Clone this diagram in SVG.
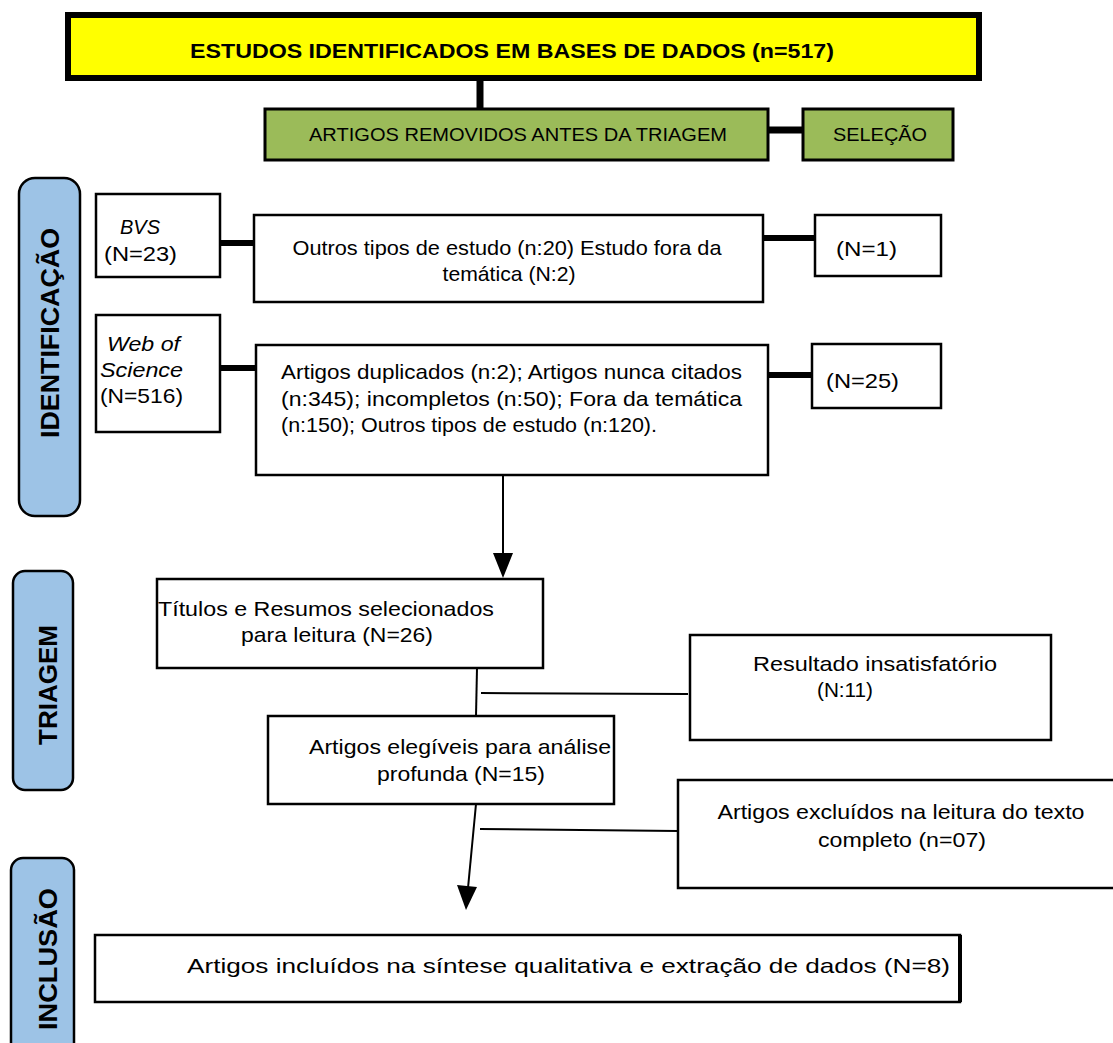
<svg xmlns="http://www.w3.org/2000/svg" width="1113" height="1043" viewBox="0 0 1113 1043">
<defs>
<style>
text{font-family:"Liberation Sans",Arial,sans-serif;fill:#000}
.box{fill:#fff;stroke:#000;stroke-width:2.5}
.green{fill:#9BBB59;stroke:#000;stroke-width:3}
.side{fill:#9DC3E6;stroke:#000;stroke-width:2.5}
.t{font-size:21px}
.lbl{font-size:26px;font-weight:bold}
.thick{stroke:#000;stroke-width:6;fill:none}
.thin{stroke:#000;stroke-width:2;fill:none}
</style>
</defs>
<rect width="1113" height="1043" fill="#fff"/>

<g id="connectors">
<line class="thick" x1="480" y1="80" x2="480" y2="108" style="stroke-width:7"/>
<line class="thick" x1="768" y1="130" x2="803" y2="130" style="stroke-width:7"/>
<line class="thick" x1="220" y1="243" x2="255" y2="243"/>
<line class="thick" x1="763" y1="238" x2="815" y2="238"/>
<line class="thick" x1="220" y1="368" x2="255" y2="368"/>
<line class="thick" x1="763" y1="375" x2="812" y2="375"/>
<line class="thin" x1="503" y1="465" x2="503" y2="555"/>
<polygon points="493,553 513,553 503,578" fill="#000"/>
<line class="thin" x1="477" y1="668" x2="476" y2="716"/>
<line class="thin" x1="481" y1="693" x2="688" y2="694"/>
<line class="thin" x1="476" y1="804" x2="468" y2="888"/>
<polygon points="457,885 477,887 466,910" fill="#000"/>
<line class="thin" x1="480" y1="829" x2="678" y2="831"/>
<path d="M66,912 H72 V948 H66" class="thin" style="stroke-width:1.5"/>
</g>

<g id="title">
<rect x="68" y="15" width="911" height="63" fill="#FFFF00" stroke="#000" stroke-width="6"/>
<text x="512" y="58" text-anchor="middle" font-size="20" font-weight="bold" textLength="644" lengthAdjust="spacingAndGlyphs">ESTUDOS IDENTIFICADOS EM BASES DE DADOS (n=517)</text>
</g>

<g id="removidos">
<rect class="green" x="265" y="109" width="503" height="51"/>
<text x="518" y="141" text-anchor="middle" font-size="19" textLength="418" lengthAdjust="spacingAndGlyphs">ARTIGOS REMOVIDOS ANTES DA TRIAGEM</text>
</g>

<g id="selecao">
<rect class="green" x="803" y="109" width="150" height="51"/>
<text x="880" y="141" text-anchor="middle" font-size="19" textLength="94" lengthAdjust="spacingAndGlyphs">SELEÇÃO</text>
</g>

<g id="label-identificacao">
<rect class="side" x="19" y="178" width="61" height="338" rx="16"/>
<text class="lbl" transform="translate(59,333) rotate(-90)" text-anchor="middle" textLength="210" lengthAdjust="spacingAndGlyphs">IDENTIFICAÇÃO</text>
</g>

<g id="bvs">
<rect class="box" x="96" y="194" width="124" height="83"/>
<text class="t" x="120" y="234" font-style="italic" textLength="40" lengthAdjust="spacingAndGlyphs">BVS</text>
<text class="t" x="104" y="261" textLength="73" lengthAdjust="spacingAndGlyphs">(N=23)</text>
</g>

<g id="bvs-excl">
<rect class="box" x="254" y="215" width="509" height="87"/>
<text class="t" x="507" y="255" text-anchor="middle" textLength="429" lengthAdjust="spacingAndGlyphs">Outros tipos de estudo (n:20) Estudo fora da</text>
<text class="t" x="509" y="281" text-anchor="middle" textLength="133" lengthAdjust="spacingAndGlyphs">temática (N:2)</text>
</g>

<g id="bvs-n">
<rect class="box" x="815" y="215" width="126" height="61"/>
<text class="t" x="836" y="256" textLength="61" lengthAdjust="spacingAndGlyphs">(N=1)</text>
</g>

<g id="wos">
<rect class="box" x="96" y="315" width="124" height="117"/>
<text class="t" x="107" y="351" font-style="italic" textLength="73" lengthAdjust="spacingAndGlyphs">Web of</text>
<text class="t" x="100" y="377" font-style="italic" textLength="83" lengthAdjust="spacingAndGlyphs">Science</text>
<text class="t" x="100" y="403" textLength="83" lengthAdjust="spacingAndGlyphs">(N=516)</text>
</g>

<g id="wos-excl">
<rect class="box" x="256" y="345" width="512" height="130"/>
<text class="t" x="281" y="379" textLength="461" lengthAdjust="spacingAndGlyphs">Artigos duplicados (n:2); Artigos nunca citados</text>
<text class="t" x="281" y="406" textLength="461" lengthAdjust="spacingAndGlyphs">(n:345); incompletos (n:50); Fora da temática</text>
<text class="t" x="281" y="432" textLength="376" lengthAdjust="spacingAndGlyphs">(n:150); Outros tipos de estudo (n:120).</text>
</g>

<g id="wos-n">
<rect class="box" x="812" y="344" width="129" height="64"/>
<text class="t" x="826" y="388" textLength="73" lengthAdjust="spacingAndGlyphs">(N=25)</text>
</g>

<g id="label-triagem">
<rect class="side" x="13" y="571" width="60" height="219" rx="12"/>
<text class="lbl" transform="translate(57,685) rotate(-90)" text-anchor="middle" textLength="120" lengthAdjust="spacingAndGlyphs">TRIAGEM</text>
</g>

<g id="titulos">
<rect class="box" x="157" y="579" width="386" height="89"/>
<text class="t" x="158" y="616" textLength="336" lengthAdjust="spacingAndGlyphs">Títulos e Resumos selecionados</text>
<text class="t" x="241" y="642" textLength="192" lengthAdjust="spacingAndGlyphs">para leitura (N=26)</text>
</g>

<g id="insatisf">
<rect class="box" x="690" y="635" width="361" height="105"/>
<text class="t" x="875" y="671" text-anchor="middle" textLength="244" lengthAdjust="spacingAndGlyphs">Resultado insatisfatório</text>
<text class="t" x="817" y="697" textLength="56" lengthAdjust="spacingAndGlyphs">(N:11)</text>
</g>

<g id="elegiveis">
<rect class="box" x="268" y="716" width="346" height="88"/>
<text class="t" x="460" y="754" text-anchor="middle" textLength="302" lengthAdjust="spacingAndGlyphs">Artigos elegíveis para análise</text>
<text class="t" x="461" y="781" text-anchor="middle" textLength="168" lengthAdjust="spacingAndGlyphs">profunda (N=15)</text>
</g>

<g id="excluidos">
<rect class="box" x="678" y="780" width="440" height="108"/>
<text class="t" x="901" y="819" text-anchor="middle" textLength="367" lengthAdjust="spacingAndGlyphs">Artigos excluídos na leitura do texto</text>
<text class="t" x="902" y="847" text-anchor="middle" textLength="168" lengthAdjust="spacingAndGlyphs">completo (n=07)</text>
</g>

<g id="label-inclusao">
<rect class="side" x="11" y="858" width="63" height="200" rx="12"/>
<text class="lbl" transform="translate(57,959) rotate(-90)" text-anchor="middle" textLength="142" lengthAdjust="spacingAndGlyphs">INCLUSÃO</text>
</g>

<g id="incluidos">
<rect class="box" x="95" y="935" width="865" height="67"/>
<line x1="960" y1="935" x2="960" y2="1002" stroke="#000" stroke-width="4"/>
<text class="t" x="187" y="973" textLength="763" lengthAdjust="spacingAndGlyphs">Artigos incluídos na síntese qualitativa e extração de dados (N=8)</text>
</g>
</svg>
